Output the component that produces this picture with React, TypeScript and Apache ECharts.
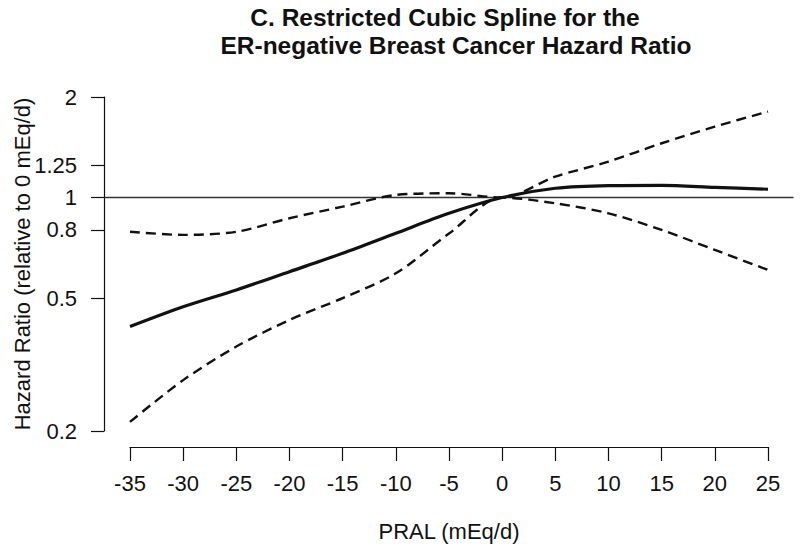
import React, { useEffect, useRef } from "react";
import * as echarts from "echarts";

const titleLine1 = "C. Restricted Cubic Spline for the";
const titleLine2 = "ER-negative Breast Cancer Hazard Ratio";
const xTitle = "PRAL (mEq/d)";
const yTitle = "Hazard Ratio (relative to 0 mEq/d)";

const pral = [-35, -30, -25, -20, -15, -10, -5, 0, 5, 10, 15, 20, 25];
const hazardRatio = [0.411, 0.471, 0.529, 0.6, 0.681, 0.782, 0.897, 1.0, 1.066, 1.086, 1.088, 1.073, 1.059];
const upperCI = [0.79, 0.773, 0.79, 0.867, 0.939, 1.018, 1.03, 1.0, 1.155, 1.281, 1.454, 1.631, 1.808];
const lowerCI = [0.213, 0.284, 0.358, 0.43, 0.5, 0.593, 0.78, 1.0, 0.961, 0.897, 0.8, 0.697, 0.607];

const yTicks = [0.2, 0.5, 0.8, 1, 1.25, 2];
const xMin = -35;
const xMax = 25;
const refValue = 1;

const FONT = "'Liberation Sans', Arial, Helvetica, sans-serif";
const INK = "#111";

export default function App() {
  const ref = useRef<HTMLDivElement>(null);

  useEffect(() => {
    if (!ref.current) return;
    const chart = echarts.init(ref.current, undefined, { renderer: "svg" });
    const lg = (v: number) => Math.log10(v);
    const pts = (ys: number[]) => pral.map((x, i) => [x, lg(ys[i])]);
    const ext = (xMax - xMin) * 0.04;

    const titles = [
      {
        type: "text",
        id: "t1",
        x: 445,
        y: 17,
        style: {
          text: titleLine1,
          font: `bold 24.5px ${FONT}`,
          fill: INK,
          align: "center",
          verticalAlign: "middle",
        },
      },
      {
        type: "text",
        id: "t2",
        x: 456,
        y: 45,
        style: {
          text: titleLine2,
          font: `bold 24.5px ${FONT}`,
          fill: INK,
          align: "center",
          verticalAlign: "middle",
        },
      },
    ];

    const option: any = {
      animation: false,
      backgroundColor: "#fff",
      textStyle: { fontFamily: FONT },
      graphic: titles,
      grid: { left: 130, right: 32, top: 97, bottom: 124, outerBoundsMode: "none", containLabel: false },
      xAxis: {
        type: "value",
        min: xMin,
        max: xMax,
        interval: 5,
        offset: 16,
        name: xTitle,
        nameLocation: "middle",
        nameGap: 73,
        nameMoveOverlap: false,
        nameTextStyle: { fontSize: 22, color: INK, fontFamily: FONT },
        axisLine: { show: true, onZero: false, lineStyle: { color: INK, width: 1.2 } },
        axisTick: { show: true, length: 14, lineStyle: { color: INK, width: 1.2 } },
        axisLabel: { fontSize: 22, color: INK, margin: 25, fontFamily: FONT },
        splitLine: { show: false },
      },
      yAxis: {
        type: "value",
        min: lg(yTicks[0]),
        max: lg(yTicks[yTicks.length - 1]),
        offset: 26,
        name: yTitle,
        nameLocation: "middle",
        nameGap: 71,
        nameMoveOverlap: false,
        nameTextStyle: { fontSize: 22, color: INK, fontFamily: FONT },
        axisLine: { show: true, onZero: false, lineStyle: { color: INK, width: 1.2 } },
        axisTick: {
          show: true,
          length: 13,
          customValues: yTicks.map(lg),
          lineStyle: { color: INK, width: 1.2 },
        },
        axisLabel: {
          fontSize: 22,
          color: INK,
          margin: 27,
          fontFamily: FONT,
          customValues: yTicks.map(lg),
          formatter: (v: number) => {
            const raw = Math.pow(10, v);
            const t = yTicks.find((k) => Math.abs(k - raw) < 1e-6);
            return t !== undefined ? String(t) : "";
          },
        },
        splitLine: { show: false },
      },
      series: [
        {
          type: "line",
          data: pts(upperCI),
          symbol: "none",
          smooth: 0.3,
          lineStyle: { color: INK, width: 2.4, type: [10, 6] },
          z: 2,
        },
        {
          type: "line",
          data: pts(lowerCI),
          symbol: "none",
          smooth: 0.3,
          lineStyle: { color: INK, width: 2.4, type: [10, 6] },
          z: 2,
        },
        {
          type: "line",
          data: pts(hazardRatio),
          symbol: "none",
          smooth: 0.3,
          lineStyle: { color: INK, width: 3.2 },
          z: 3,
        },
      ],
    };
    chart.setOption(option);

    // Reference line at HR = 1 spanning the full (extended) plot region, via the chart's own scales
    const p0 = chart.convertToPixel({ gridIndex: 0 }, [xMin - ext, lg(refValue)]) as number[];
    const p1 = chart.convertToPixel({ gridIndex: 0 }, [xMax + ext, lg(refValue)]) as number[];
    chart.setOption({
      graphic: [
        ...titles,
        {
          type: "line",
          id: "refline",
          z: 1,
          shape: { x1: p0[0], y1: p0[1], x2: p1[0], y2: p1[1] },
          style: { stroke: "#333", lineWidth: 1.4 },
        },
      ],
    });
    return () => chart.dispose();
  }, []);

  return <div ref={ref} style={{ width: 800, height: 555, position: "absolute", left: 0, top: 0 }} />;
}
